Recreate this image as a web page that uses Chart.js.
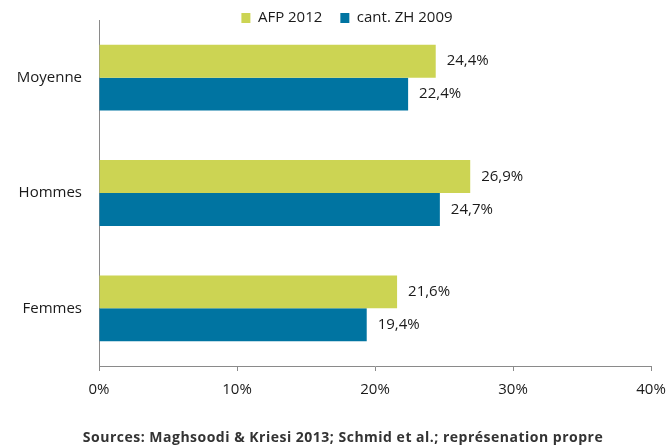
<!DOCTYPE html>
<html><head><meta charset="utf-8">
<script src="https://cdn.jsdelivr.net/npm/chart.js@4.4.1/dist/chart.umd.min.js"></script>
<style>html,body{margin:0;padding:0;background:#fff}#wrap{width:667px;height:445px;position:relative}</style>
</head><body><div id="wrap"><canvas id="c"></canvas></div>
<script>
const categories = ['Moyenne', 'Hommes', 'Femmes'];
const seriesNames = ['AFP 2012', 'cant. ZH 2009'];
const afp2012 = [24.4, 26.9, 21.6];
const zh2009 = [22.4, 24.7, 19.4];
const xTickValues = [0, 10, 20, 30, 40];
const sourceText = 'Sources: Maghsoodi & Kriesi 2013; Schmid et al.; représenation propre';

const GREEN = '#CCD453';
const BLUE = '#0074A1';
const AXIS = '#8a8a8a';
const TEXT = '#1a1a1a';
const FONT = "'Open Sans', sans-serif";

const fmt = v => v.toFixed(1).replace('.', ',') + '%';

const layoutTweaks = {
  id: 'layoutTweaks',
  beforeInit(chart) {
    const lg = chart.legend;
    if (lg) {
      const f = lg.fit;
      lg.fit = function () { f.call(this); this.height = 20; };
    }
    const tb = chart.titleBlock;
    if (tb) {
      const d = tb.draw;
      tb.draw = function () {
        const ctx = this.ctx;
        ctx.save();
        ctx.letterSpacing = '0.5px';
        d.apply(this, arguments);
        ctx.restore();
      };
    }
  },
  afterLayout(chart) {
    const lg = chart.legend;
    if (lg) { lg.left = 0; lg.right = 694; lg.width = 694; lg.top = -7.5; lg.bottom = 40; lg.height = 47.5; }
    const tb = chart.titleBlock;
    if (tb) { tb.left = 20; tb.right = 666; tb.width = 646; }
  }
};

const barLabels = {
  id: 'barLabels',
  afterDatasetsDraw(chart) {
    const ctx = chart.ctx;
    ctx.save();
    ctx.font = '15px ' + FONT;
    ctx.fillStyle = TEXT;
    ctx.textAlign = 'left';
    ctx.textBaseline = 'middle';
    chart.data.datasets.forEach((ds, i) => {
      chart.getDatasetMeta(i).data.forEach((el, j) => {
        ctx.fillText(fmt(ds.data[j]), el.x + 11, el.y);
      });
    });
    ctx.restore();
  }
};

new Chart(document.getElementById('c'), {
  type: 'bar',
  data: {
    labels: categories,
    datasets: [
      { label: seriesNames[0], data: afp2012, backgroundColor: GREEN, borderWidth: 0 },
      { label: seriesNames[1], data: zh2009, backgroundColor: BLUE, borderWidth: 0 }
    ]
  },
  options: {
    indexAxis: 'y',
    responsive: true,
    maintainAspectRatio: false,
    animation: false,
    devicePixelRatio: 1,
    categoryPercentage: 0.571,
    barPercentage: 1.0,
    layout: { padding: { left: 10, right: 16, top: 0, bottom: 0 } },
    plugins: {
      legend: {
        position: 'top',
        align: 'center',
        labels: {
          boxWidth: 9, boxHeight: 10, padding: 18,
          color: TEXT, font: { family: FONT, size: 15 }
        }
      },
      title: {
        display: true,
        position: 'bottom',
        align: 'center',
        text: sourceText,
        color: '#333',
        font: { family: FONT, size: 14, weight: 'bold', lineHeight: 1 },
        padding: { top: 0, bottom: 0 }
      },
      tooltip: { enabled: false }
    },
    scales: {
      x: {
        min: 0, max: 40,
        afterBuildTicks: s => { s.ticks = xTickValues.map(v => ({ value: v })); },
        afterFit: s => { s.height = 65; s.paddingLeft = 0; s.paddingRight = 0; },
        ticks: {
          callback: v => v + '%',
          color: TEXT, font: { family: FONT, size: 15 }, padding: 10
        },
        grid: { drawOnChartArea: false, drawTicks: true, tickLength: 5, color: AXIS, tickColor: AXIS },
        border: { color: AXIS, width: 1 }
      },
      y: {
        afterFit: s => { s.width = 89; s.paddingTop = 0; s.paddingBottom = 0; },
        ticks: { color: TEXT, font: { family: FONT, size: 15 }, padding: 17 },
        grid: { display: false, drawTicks: false },
        border: { color: AXIS, width: 1 }
      }
    }
  },
  plugins: [layoutTweaks, barLabels]
});
</script>
</body></html>
